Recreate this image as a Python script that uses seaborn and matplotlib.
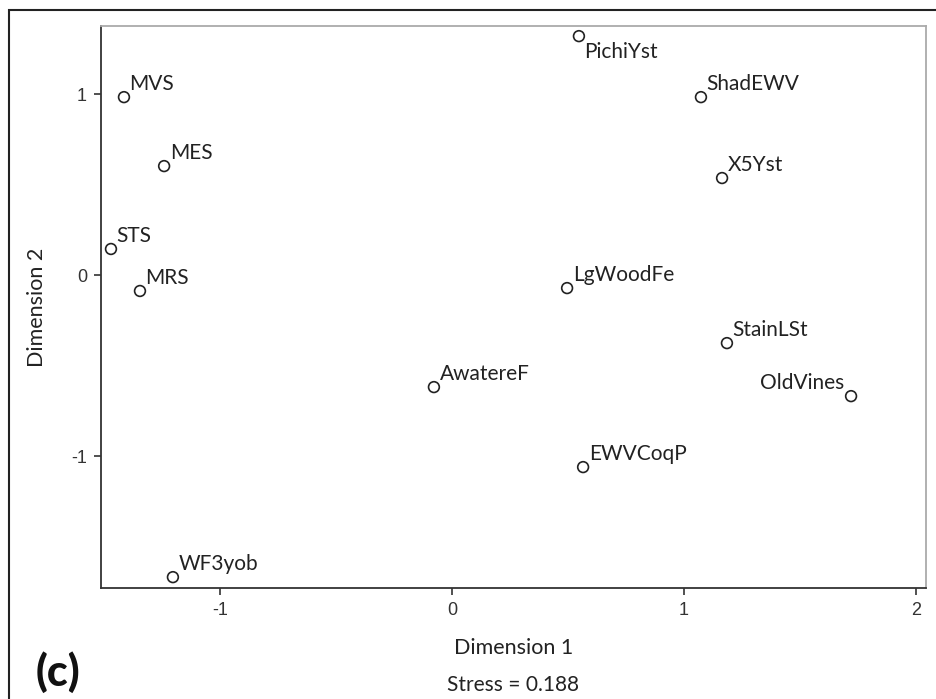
import matplotlib
matplotlib.use("Agg")
import matplotlib.pyplot as plt
import seaborn as sns
import pandas as pd
from matplotlib.patches import Rectangle

labels = ["MVS", "MES", "STS", "MRS", "WF3yob", "AwatereF", "LgWoodFe",
          "PichiYst", "ShadEWV", "X5Yst", "StainLSt", "OldVines", "EWVCoqP"]
dim1 = [-1.414, -1.241, -1.470, -1.345, -1.203, -0.078, 0.496,
        0.547, 1.073, 1.164, 1.185, 1.720, 0.565]
dim2 = [0.983, 0.602, 0.144, -0.088, -1.669, -0.619, -0.072,
        1.320, 0.983, 0.536, -0.376, -0.669, -1.061]
xticks = [-1, 0, 1, 2]
yticks = [-1, 0, 1]
stress_text = "Stress = 0.188"

df = pd.DataFrame({"Dimension 1": dim1, "Dimension 2": dim2, "label": labels})

sns.set_theme(style="white")
plt.rcParams["font.family"] = ["Lato", "DejaVu Sans"]

W, H = 937, 699
fig = plt.figure(figsize=(W / 100, H / 100), dpi=100)
ax = fig.add_axes([101 / W, 1 - 588 / H, (926 - 101) / W, (588 - 26) / H])

sns.scatterplot(data=df, x="Dimension 1", y="Dimension 2", ax=ax,
                marker="o", s=60, facecolor="none", edgecolor="#222222",
                linewidth=1.2)

ax.set_xlim(-1.513, 2.043)
ax.set_ylim(-1.729, 1.376)
ax.set_xticks(xticks)
ax.set_yticks(yticks)
ax.set_xticklabels([str(t) for t in xticks], family=["Liberation Sans"], fontsize=13, color="#333333")
ax.set_yticklabels([str(t) for t in yticks], family=["Liberation Sans"], fontsize=13, color="#333333")
ax.tick_params(axis="both", which="major", direction="out", length=5, width=1.2,
               color="#333333", bottom=True, left=True, pad=5)

for side in ["left", "bottom"]:
    ax.spines[side].set_color("#333333")
    ax.spines[side].set_linewidth(1.3)
for side in ["top", "right"]:
    ax.spines[side].set_color("#aaaaaa")
    ax.spines[side].set_linewidth(1.3)

ax.set_xlabel("")
ax.set_ylabel("")

for lab, x, y in zip(labels, dim1, dim2):
    if lab == "OldVines":
        off, ha, va = (-5, 5), "right", "baseline"
    elif lab == "PichiYst":
        off, ha, va = (4, -4), "left", "top"
    else:
        off, ha, va = (4, 5), "left", "baseline"
    ax.annotate(lab, (x, y), xytext=off, textcoords="offset points",
                ha=ha, va=va, fontsize=15, color="#222222")

fig.text(513.5 / W, 1 - 648 / H, "Dimension 1", ha="center", va="center",
         fontsize=15.5, color="#222222")
fig.text(37 / W, 1 - 307 / H, "Dimension 2", ha="center", va="center",
         rotation=90, fontsize=15.5, color="#222222")
fig.text(513.5 / W, 1 - 685 / H, stress_text, ha="center", va="center",
         fontsize=15, color="#222222")
fig.text(58 / W, 1 - 672 / H, "(c)", ha="center", va="center",
         fontsize=31, fontweight="black", color="#111111")

fig.patches.append(Rectangle((9 / W, -0.02), 1.0, 1.02 - 10 / H,
                             transform=fig.transFigure, fill=False,
                             edgecolor="#222222", linewidth=1.5))

fig.savefig("out.png", dpi=100)
